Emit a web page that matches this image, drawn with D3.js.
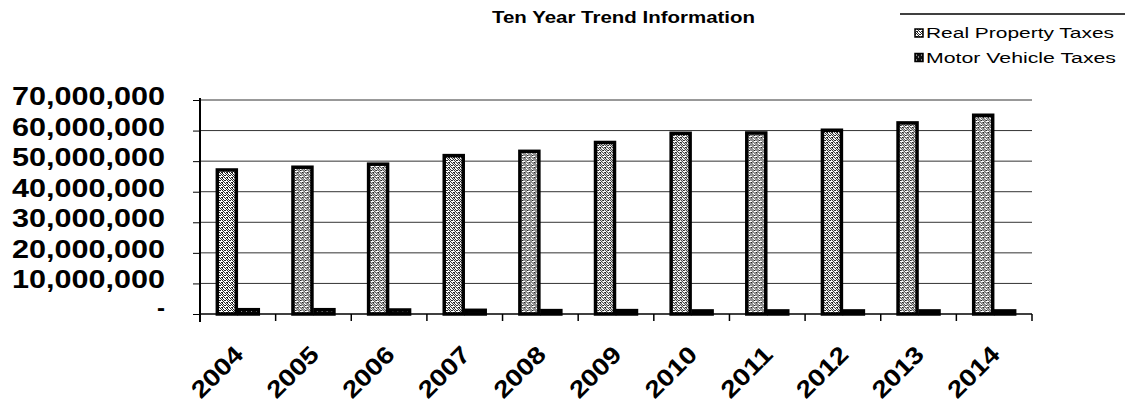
<!DOCTYPE html>
<html>
<head>
<meta charset="utf-8">
<script src="https://cdn.jsdelivr.net/npm/d3@7"></script>
<style>
  body { margin: 0; background: #fff; }
  svg text { font-family: "Liberation Sans", Arial, sans-serif; fill: #000; }
</style>
</head>
<body>
<svg id="chart" width="1129" height="406"></svg>
<script>
// chart data
var years = ["2004", "2005", "2006", "2007", "2008", "2009", "2010", "2011", "2012", "2013", "2014"];
var seriesNames = ["Real Property Taxes", "Motor Vehicle Taxes"];
var realProperty = [47600000, 48500000, 49500000, 52300000, 53700000, 56600000, 59600000, 59700000, 60600000, 63000000, 65500000];
var motorVehicle = [1900000, 1900000, 1800000, 1700000, 1600000, 1600000, 1500000, 1500000, 1500000, 1500000, 1500000];
var yTicks = [0, 10000000, 20000000, 30000000, 40000000, 50000000, 60000000, 70000000];
var titleText = "Ten Year Trend Information";

var svg = d3.select("#chart");
// plot box (don't call it "top", window.top is read-only)
var plot = { left: 200, right: 1032, top: 100, bottom: 314 };

// stipple textures (fixed dot layout, just a look)
var defs = svg.append("defs");
function stipple(id, bg, fg, dots) {
  var p = defs.append("pattern").attr("id", id)
    .attr("width", 5).attr("height", 5).attr("patternUnits", "userSpaceOnUse");
  p.append("rect").attr("width", 5).attr("height", 5).attr("fill", bg);
  dots.forEach(function(d) {
    p.append("rect").attr("x", d[0]).attr("y", d[1]).attr("width", 1).attr("height", 1).attr("fill", fg);
  });
}
stipple("stipLight", "#fff", "#222", [[0,0],[2,0],[3,1],[1,2],[4,2],[0,3],[2,3],[3,4],[1,4],[4,0],[2,2]]);
stipple("stipDark", "#111", "#fff", [[1,1],[3,3]]);
var fills = ["url(#stipLight)", "url(#stipDark)"];

var x = d3.scaleBand().domain(years).range([plot.left, plot.right]);
var xs = d3.scaleBand().domain(seriesNames).range([0, x.bandwidth()]).paddingOuter(0.72);
var y = d3.scaleLinear().domain([0, 70000000]).range([plot.bottom, plot.top]);

// gridlines
svg.append("g").selectAll("line").data(yTicks.slice(1)).join("line")
  .attr("x1", plot.left).attr("x2", plot.right)
  .attr("y1", d => y(d)).attr("y2", d => y(d))
  .attr("stroke", "#333").attr("stroke-width", 1);

// y axis
var yAxis = svg.append("g").attr("transform", "translate(" + plot.left + ",0)")
  .call(d3.axisLeft(y).tickValues(yTicks).tickSize(7).tickPadding(0)
    .tickFormat(d => d === 0 ? "-" : d3.format(",")(d)));
yAxis.select(".domain").remove();
yAxis.selectAll(".tick line").attr("stroke", "#000");
yAxis.append("line").attr("x1", 0).attr("x2", 0).attr("y1", plot.top - 2).attr("y2", plot.bottom + 8)
  .attr("stroke", "#000").attr("stroke-width", 2);
yAxis.selectAll(".tick text")
  .attr("x", -35).attr("dy", "0.3em")
  .style("font-size", "25px").style("font-weight", "bold")
  .attr("transform", "translate(0,-3)")
  .each(function(d) {
    if (d !== 0) d3.select(this).attr("textLength", 153).attr("lengthAdjust", "spacingAndGlyphs");
    else d3.select(this).attr("transform", "translate(0,-6)").style("font-size", "24px");
  });

// bars
var rows = years.map(function(yr, i) { return { year: yr, vals: [realProperty[i], motorVehicle[i]] }; });
var grp = svg.append("g").selectAll("g").data(rows).join("g")
  .attr("transform", d => "translate(" + x(d.year) + ",0)");
grp.selectAll("rect").data(d => d.vals.map((v, j) => ({ name: seriesNames[j], v: v, j: j }))).join("rect")
  .attr("x", d => xs(d.name) + 1.5)
  .attr("width", xs.bandwidth() - 3)
  .attr("y", d => y(d.v) + 1.5)
  .attr("height", d => Math.max(0, plot.bottom - y(d.v) - 1.5))
  .attr("fill", d => fills[d.j])
  .attr("stroke", "#000").attr("stroke-width", 3.5);

// x axis
var xAxis = svg.append("g").attr("transform", "translate(0," + plot.bottom + ")");
xAxis.append("line").attr("x1", plot.left).attr("x2", plot.right).attr("stroke", "#000").attr("stroke-width", 1.5);
xAxis.selectAll("line.tk").data(years.map((yr, i) => i + 1)).join("line").attr("class", "tk")
  .attr("x1", i => plot.left + i * x.bandwidth()).attr("x2", i => plot.left + i * x.bandwidth())
  .attr("y1", 0).attr("y2", 7).attr("stroke", "#000").attr("stroke-width", 1.5);
xAxis.selectAll("text").data(years).join("text")
  .attr("transform", d => "translate(" + (x(d) + x.bandwidth() / 2 + 7) + ",42) rotate(-45)")
  .attr("text-anchor", "end")
  .style("font-size", "24px").style("font-weight", "bold")
  .attr("textLength", 62).attr("lengthAdjust", "spacingAndGlyphs")
  .text(d => d);

// title
svg.append("text").attr("x", 492).attr("y", 23)
  .style("font-size", "16px").style("font-weight", "bold")
  .attr("textLength", 263).attr("lengthAdjust", "spacingAndGlyphs")
  .text(titleText);

// legend
var legend = svg.append("g");
legend.append("line").attr("x1", 900).attr("x2", 1125).attr("y1", 14).attr("y2", 14)
  .attr("stroke", "#000").attr("stroke-width", 1.5);
var li = legend.selectAll("g").data(seriesNames).join("g")
  .attr("transform", (d, i) => "translate(915," + (29 + i * 24.5) + ")");
li.append("rect").attr("width", 8).attr("height", 8)
  .attr("fill", (d, i) => fills[i]).attr("stroke", "#000").attr("stroke-width", 1.5);
li.append("text").attr("x", 11).attr("y", 9)
  .style("font-size", "14px")
  .attr("textLength", (d, i) => i === 0 ? 188 : 190).attr("lengthAdjust", "spacingAndGlyphs")
  .text(d => d);
</script>
</body>
</html>
